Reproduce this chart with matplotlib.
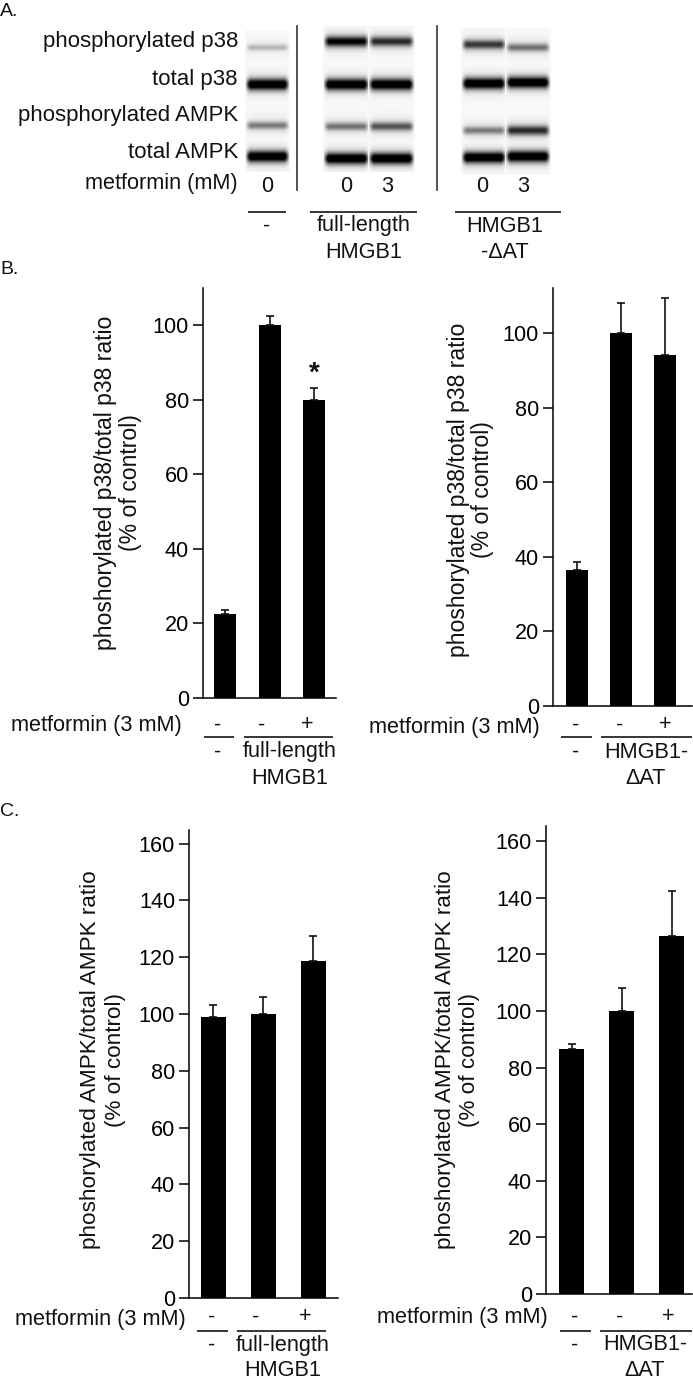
import numpy as np
import matplotlib
matplotlib.use("Agg")
import matplotlib.pyplot as plt

plt.rcParams['font.family'] = ['Liberation Sans', 'DejaVu Sans']

W, H = 693, 1380

# bar data
b_left_vals = [22.5, 100, 80]
b_left_err = [1.2, 2.5, 3.2]
b_right_vals = [36.5, 100, 94]
b_right_err = [2, 8, 15.5]
c_left_vals = [99, 100, 118.5]
c_left_err = [4, 6, 9]
c_right_vals = [86.5, 100, 126.5]
c_right_err = [2, 8, 16]

b_ticks = [0, 20, 40, 60, 80, 100]
c_ticks = [0, 20, 40, 60, 80, 100, 120, 140, 160]

blot_rows = ["phosphorylated p38", "total p38", "phosphorylated AMPK", "total AMPK"]
# band darkness per lane, rows as in blot_rows
lane_0 = [0.22, 1.0, 0.42, 1.0]
lane_fl0 = [0.85, 1.0, 0.45, 1.0]
lane_fl3 = [0.7, 1.0, 0.55, 1.0]
lane_at0 = [0.65, 1.0, 0.42, 1.0]
lane_at3 = [0.45, 1.0, 0.7, 1.0]

fig = plt.figure(figsize=(W / 100, H / 100), dpi=100)
bg = fig.add_axes([0, 0, 1, 1])
bg.set_xlim(0, W)
bg.set_ylim(H, 0)
bg.axis("off")


def txt(x, y, s, ha="center", size=15.6, **kw):
    bg.text(x, y, s, ha=ha, va="center", fontsize=size, color="#111111", **kw)


def hline(x0, x1, y):
    bg.plot([x0, x1], [y, y], color="black", lw=1.1, solid_capstyle="butt")


def bar_panel(x_axis, x_right, y_top, y_zero, px_unit, vals, errs, ticks, lefts, bw):
    ax = fig.add_axes([x_axis / W, 1 - y_zero / H, (x_right - x_axis) / W, (y_zero - y_top) / H])
    ax.patch.set_alpha(0)
    ax.set_xlim(x_axis, x_right)
    ax.set_ylim(0, (y_zero - y_top) / px_unit)
    centers = [l + bw / 2 for l in lefts]
    ax.bar(centers, vals, width=bw, color="black")
    ax.errorbar(centers, vals, yerr=[np.zeros(3), errs], fmt="none", ecolor="#111111",
                elinewidth=1.2, capsize=3, capthick=1.2)
    ax.spines["top"].set_visible(False)
    ax.spines["right"].set_visible(False)
    ax.set_xticks([])
    ax.set_yticks(ticks)
    ax.tick_params(axis="y", length=7, width=1.1, labelsize=15.6, pad=3)
    for s in ["left", "bottom"]:
        ax.spines[s].set_linewidth(1.1)
    return ax


# A: blot
def blot_lane(x0, x1, ys, darkness, y_top, y_bot):
    xs = np.linspace(-1, 1, 60)
    yy = np.arange(y_top, y_bot)
    img = np.zeros((len(yy), len(xs)))
    prof = np.clip((1 - np.abs(xs) ** 4) * 1.5, 0, 1)
    for y, d in zip(ys, darkness):
        core = d * np.exp(-((yy - y) / (2.6 + 3.0 * d)) ** 2)
        halo = 0.18 * d * np.exp(-((yy - y) / 10.0) ** 2)
        img = np.maximum(img, np.outer(core + halo, prof))
    img = np.clip(img + 0.025, 0, 1)
    bg.imshow(img, cmap="gray_r", vmin=0, vmax=1, extent=[x0 - 3, x1 + 3, y_bot, y_top],
              aspect="auto", interpolation="bilinear", zorder=1)


blot_lane(248, 287, [47, 84, 125, 156], lane_0, 30, 172)
blot_lane(326, 367, [41, 84, 126, 158], lane_fl0, 26, 172)
blot_lane(371, 412, [41, 84, 126, 158], lane_fl3, 26, 172)
blot_lane(464, 504, [44, 83, 130, 157], lane_at0, 28, 175)
blot_lane(508, 548, [47, 82, 130, 156], lane_at3, 28, 175)
bg.set_xlim(0, W)
bg.set_ylim(H, 0)

txt(0, 11, "A.", ha="left", size=14)
for y, s in zip([42, 80, 115, 152], blot_rows):
    txt(238, y, s, ha="right", size=16)
txt(238, 183, "metformin (mM)", ha="right")
for x, s in zip([267, 346, 387, 482, 523], ["0", "0", "3", "0", "3"]):
    txt(x, 187, s)
bg.plot([297, 297], [26, 190], color="#222222", lw=1.1)
bg.plot([437, 437], [26, 190], color="#222222", lw=1.1)
hline(248, 286, 212)
hline(310, 417, 212)
hline(455, 561, 212)
txt(267, 226, "-")
txt(364, 226, "full-length")
txt(364, 252, "HMGB1")
txt(505, 226, "HMGB1")
txt(505, 252, "-ΔAT")

# B
txt(0, 270, "B.", ha="left", size=14)
bar_panel(203, 336, 288, 698, 3.73, b_left_vals, b_left_err, b_ticks, [214, 259, 303], 22)
bar_panel(553, 692, 288, 706, 3.73, b_right_vals, b_right_err, b_ticks, [566, 610, 654], 22)
txt(314, 374, "*", size=20, fontweight="bold")
txt(106, 483, "phoshorylated p38/total p38 ratio", rotation=90, size=16.6)
txt(130, 483, "(% of control)", rotation=90, size=16.6)
txt(458, 490, "phoshorylated p38/total p38 ratio", rotation=90, size=16.6)
txt(482, 490, "(% of control)", rotation=90, size=16.6)

txt(182, 725, "metformin (3 mM)", ha="right")
for x, s in zip([218, 262, 307], ["-", "-", "+"]):
    txt(x, 725, s)
hline(204, 234, 737)
hline(244, 333, 737)
txt(218, 752, "-")
txt(290, 752, "full-length")
txt(290, 779, "HMGB1")

txt(540, 728, "metformin (3 mM)", ha="right")
for x, s in zip([576, 620, 665], ["-", "-", "+"]):
    txt(x, 725, s)
hline(561, 592, 737)
hline(601, 692, 737)
txt(576, 752, "-")
txt(646, 752, "HMGB1-")
txt(646, 779, "ΔAT")

# C
txt(0, 812, "C.", ha="left", size=14)
bar_panel(189, 338, 830, 1298, 2.84, c_left_vals, c_left_err, c_ticks, [201, 251, 301], 25)
bar_panel(546, 692, 826, 1294, 2.83, c_right_vals, c_right_err, c_ticks, [559, 609, 659], 25)
txt(91, 1060, "phoshorylated AMPK/total AMPK ratio", rotation=90, size=16.2)
txt(115, 1060, "(% of control)", rotation=90, size=16.2)
txt(446, 1060, "phoshorylated AMPK/total AMPK ratio", rotation=90, size=16.2)
txt(470, 1060, "(% of control)", rotation=90, size=16.2)

txt(186, 1320, "metformin (3 mM)", ha="right")
for x, s in zip([212, 256, 305], ["-", "-", "+"]):
    txt(x, 1317, s)
hline(197, 228, 1331)
hline(237, 326, 1331)
txt(212, 1345, "-")
txt(283, 1345, "full-length")
txt(283, 1371, "HMGB1")

txt(548, 1317, "metformin (3 mM)", ha="right")
for x, s in zip([575, 620, 668], ["-", "-", "+"]):
    txt(x, 1317, s)
hline(560, 591, 1331)
hline(600, 692, 1331)
txt(575, 1345, "-")
txt(645, 1345, "HMGB1-")
txt(645, 1371, "ΔAT")

fig.savefig("out.png", dpi=100)
